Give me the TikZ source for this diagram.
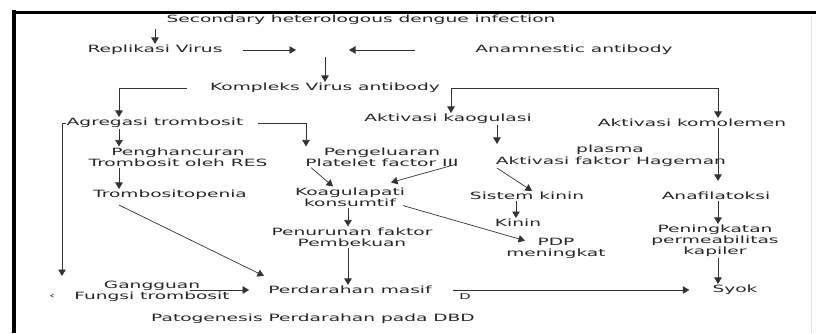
\documentclass[tikz,border=0pt]{standalone}
\usepackage{fontspec}
\setmainfont{DejaVu Sans}[FakeStretch=1.86]
\usetikzlibrary{arrows.meta,positioning}

\begin{document}
\begin{tikzpicture}[x=1pt,y=-1pt,
    lbl/.style={font=\fontsize{10}{11}\selectfont,align=center,inner sep=1pt,text=black!85},
    arr/.style={-{Triangle[length=6.5pt,width=7.5pt]},line width=0.7pt,draw=black!80}]
    \useasboundingbox (0,0) rectangle (816,333);
    % frame
    \draw[line width=3pt] (12,12) -- (816,12);
    \draw[line width=4.5pt] (14,10) -- (14,333);
    \draw[black!10,line width=0.8pt] (811,16) -- (811,333);

    % nodes
    \node[lbl] (sec)  at (361,20)  {Secondary heterologous dengue infection};
    \node[lbl] (rep)  at (155,50)  {Replikasi Virus};
    \node[lbl] (ana)  at (574,50)  {Anamnestic antibody};
    \node[lbl] (kva)  at (325,88)  {Kompleks Virus antibody};
    \node[lbl] (agr)  at (155,123) {Agregasi trombosit};
    \node[lbl] (akk)  at (448,119) {Aktivasi kaogulasi};
    \node[lbl] (akm)  at (692,123) {Aktivasi komolemen};
    \node[lbl] (pgh)  at (178,157) {Penghancuran\\Trombosit oleh RES};
    \node[lbl] (pf)   at (382,157) {Pengeluaran\\Platelet factor III};
    \node[lbl] (plasma) at (610,150) {plasma};
    \node[lbl] (hag)  at (611,162) {Aktivasi faktor Hageman};
    \node[lbl] (trp)  at (170,195) {Trombositopenia};
    \node[lbl] (kk)   at (350,197) {Koagulapati\\konsumtif};
    \node[lbl] (sk)   at (527,196) {Sistem kinin};
    \node[lbl] (ana2) at (716,196) {Anafilatoksi};
    \node[lbl] (kin)  at (518,223) {Kinin};
    \node[lbl] (pnf)  at (352,237) {Penurunan faktor\\Pembekuan};
    \node[lbl] (pdp)  at (556,248) {PDP\\meningkat};
    \node[lbl] (pk)   at (715,241) {Peningkatan\\permeabilitas\\kapiler};
    \node[lbl] (gf)   at (152,291) {Gangguan\\Fungsi trombosit};
    \node[lbl] (pm)   at (350,290) {Perdarahan masif};
    \node[lbl] (syok) at (735,290) {Syok};
    \node[lbl,font=\fontsize{8}{9}\selectfont] (dd) at (465,297) {D};
    \node[lbl,font=\fontsize{8}{9}\selectfont] (mk) at (52,296) {‹};
    \node[lbl] (ttl)  at (313,319) {Patogenesis Perdarahan pada DBD};

    % columns and free ends
    \coordinate (colA) at (119,0);
    \coordinate (colL) at (62,0);
    \coordinate (colB) at (306,0);
    \coordinate (colH) at (497,0);
    \coordinate (colK) at (348,0);
    \coordinate (colN) at (516,0);
    \coordinate (colR) at (718,0);
    \coordinate (top)  at (155,29);
    \coordinate (mid)  at (325,57);
    \coordinate (lend) at (62,276);

    % connectors
    \draw[arr] (top) -- (rep.north);
    \draw[arr] (rep.east -| 243,0) -- (rep.east -| 296,0);
    \draw[arr] (ana.west -| 415,0) -- (ana.west -| 349,0);
    \draw[arr] (mid) -- (kva.north);
    \draw[arr] (kva.west -| 187,0) -| (agr.north -| colA);
    \draw[arr] (kva.east -| 451,0) -- (akk.north -| 451,0);
    \draw[arr] (kva.east -| 451,0) -| (akm.north -| colR);
    \draw[arr] (agr.south -| colA) -- (pgh.north -| colA);
    \draw[arr] (pgh.south -| colA) -- (trp.north -| colA);
    \draw[arr] (agr.east -| 258,0) -| (pf.north -| colB);
    \draw[arr] (agr.west) -| (lend);
    \draw[arr] ([yshift=-4pt]trp.south -| colA) -- ([yshift=9pt]pm.north -| 264,0);
    \draw[arr] (pf.south -| 311,0) -- (kk.north -| 333,0);
    \draw[arr] ([yshift=3pt]pf.south -| 455,0) -- ([yshift=4pt]kk.north -| 391,0);
    \draw[arr] (akk.south -| colH) -- (plasma.north -| colH);
    \draw[arr] (hag.south -| colH) -- (sk.north -| 532,0);
    \draw[arr] (sk.south -| colN) -- (kin.north -| colN);
    \draw[arr] (kk.south -| colK) -- (pnf.north -| colK);
    \draw[arr] ([yshift=2pt]kk.south -| 403,0) -- ([yshift=-4pt]pdp.north -| 525,0);
    \draw[arr] (pnf.south -| colK) -- (pm.north -| colK);
    \draw[arr,shorten >=10pt] (akm.south -| colR) -- (ana2.north -| colR);
    \draw[arr] (ana2.south -| colR) -- (pk.north -| colR);
    \draw[arr] (pk.south -| colR) -- (syok.north -| colR);
    \draw[arr,shorten >=22pt] (pm.east -| 453,0) -- (syok.west);
    \draw[arr,shorten >=18pt] (pm.west -| 190,0) -- (pm.west);
\end{tikzpicture}
\end{document}
